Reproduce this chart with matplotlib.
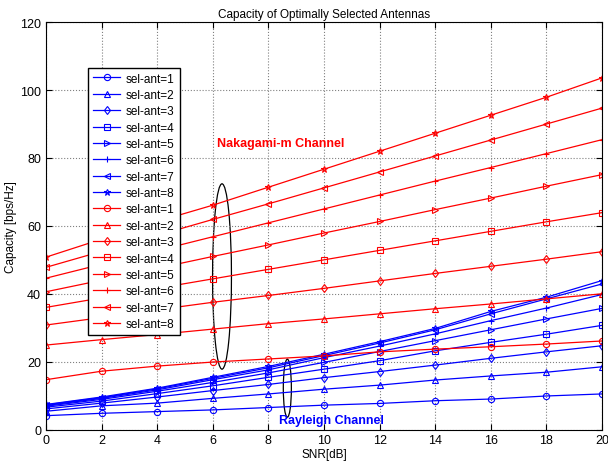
import numpy as np
import matplotlib
matplotlib.use("Agg")
import matplotlib.pyplot as plt
from matplotlib.patches import Ellipse

plt.rcParams['font.family'] = ['Liberation Sans', 'DejaVu Sans']

snr = [0, 2, 4, 6, 8, 10, 12, 14, 16, 18, 20]

# Rayleigh channel (blue)
ray1 = [4.1, 4.8, 5.3, 5.8, 6.5, 7.2, 7.7, 8.5, 9.0, 9.9, 10.5]
ray2 = [5.4, 7.0, 7.8, 9.2, 10.5, 11.9, 13.1, 14.6, 15.8, 16.9, 18.5]
ray3 = [6.1, 7.8, 9.6, 11.5, 13.3, 15.3, 17.1, 19.0, 21.0, 22.9, 24.7]
ray4 = [6.6, 8.4, 10.6, 12.9, 15.4, 17.8, 20.3, 23.2, 25.7, 28.1, 30.7]
ray5 = [6.9, 8.9, 11.3, 13.9, 16.7, 19.8, 23.0, 26.2, 29.4, 32.6, 35.7]
ray6 = [7.1, 9.2, 11.7, 14.7, 17.6, 21.2, 24.6, 28.2, 32.1, 35.8, 39.8]
ray7 = [7.3, 9.4, 12.0, 15.1, 18.2, 21.8, 25.5, 29.4, 34.1, 38.5, 42.9]
ray8 = [7.4, 9.6, 12.2, 15.4, 18.6, 22.2, 25.9, 29.8, 34.8, 39.0, 43.9]

# Nakagami-m channel (red)
nak1 = [14.7, 17.2, 18.7, 19.9, 20.8, 21.7, 22.9, 23.7, 24.4, 25.2, 26.1]
nak2 = [24.9, 26.5, 28.0, 29.6, 31.2, 32.6, 34.1, 35.6, 37.0, 38.5, 40.0]
nak3 = [30.8, 33.0, 35.3, 37.5, 39.5, 41.6, 43.8, 46.0, 48.1, 50.2, 52.4]
nak4 = [36.0, 38.8, 41.6, 44.4, 47.2, 50.0, 52.8, 55.6, 58.4, 61.2, 63.9]
nak5 = [40.6, 44.0, 47.5, 51.0, 54.4, 57.9, 61.3, 64.8, 68.2, 71.7, 75.1]
nak6 = [44.6, 48.7, 52.7, 56.8, 60.9, 65.0, 69.1, 73.2, 77.2, 81.3, 85.4]
nak7 = [47.8, 52.5, 57.2, 61.9, 66.5, 71.2, 75.9, 80.6, 85.3, 90.0, 94.7]
nak8 = [50.8, 56.1, 61.3, 66.1, 71.4, 76.7, 82.0, 87.3, 92.6, 97.9, 103.6]

rayleigh = [ray1, ray2, ray3, ray4, ray5, ray6, ray7, ray8]
nakagami = [nak1, nak2, nak3, nak4, nak5, nak6, nak7, nak8]
labels = ["sel-ant=%d" % k for k in range(1, 9)]
markers = ['o', '^', 'd', 's', '>', '+', '<', '*']

fig = plt.figure(figsize=(6.08, 4.64), dpi=100)
ax = fig.add_axes([0.0757, 0.072, 0.9145, 0.878])

for vals, lab, m in zip(rayleigh, labels, markers):
    ax.plot(snr, vals, color='blue', marker=m, markersize=4.5, markerfacecolor='none',
            linewidth=0.9, markeredgewidth=0.8, label=lab)
for vals, lab, m in zip(nakagami, labels, markers):
    ax.plot(snr, vals, color='red', marker=m, markersize=4.5, markerfacecolor='none',
            linewidth=0.9, markeredgewidth=0.8, label=lab)

# ellipses marking each group
ax.add_patch(Ellipse((6.33, 45.1), 0.68, 54.6, fill=False, edgecolor='black', linewidth=0.9))
ax.add_patch(Ellipse((8.68, 12.2), 0.29, 17.1, fill=False, edgecolor='black', linewidth=0.9))

ax.text(8.45, 84.5, "Nakagami-m Channel", color='red', fontsize=9, fontweight='bold',
        ha='center', va='center')
ax.text(10.25, 2.8, "Rayleigh Channel", color='blue', fontsize=9, fontweight='bold',
        ha='center', va='center')

ax.set_xlim(0, 20)
ax.set_ylim(0, 120)
ax.set_xticks(np.arange(0, 21, 2))
ax.set_yticks(np.arange(0, 121, 20))
ax.tick_params(direction='in', top=True, right=True, labelsize=9, length=4)
ax.grid(True, linestyle=':', color='gray', linewidth=0.8)
ax.set_xlabel("SNR[dB]", fontsize=8.5, labelpad=1)
ax.set_ylabel("Capacity [bps/Hz]", fontsize=8.5, labelpad=2)
ax.set_title("Capacity of Optimally Selected Antennas", fontsize=8.5, pad=4)

leg = ax.legend(loc='upper left', bbox_to_anchor=(0.076, 0.888), fontsize=8.5,
                fancybox=False, framealpha=1, edgecolor='black', handlelength=2.3,
                labelspacing=0.37, borderpad=0.4, handletextpad=0.5, borderaxespad=0)
leg.get_frame().set_linewidth(1.0)

fig.savefig("out.png", dpi=100)
